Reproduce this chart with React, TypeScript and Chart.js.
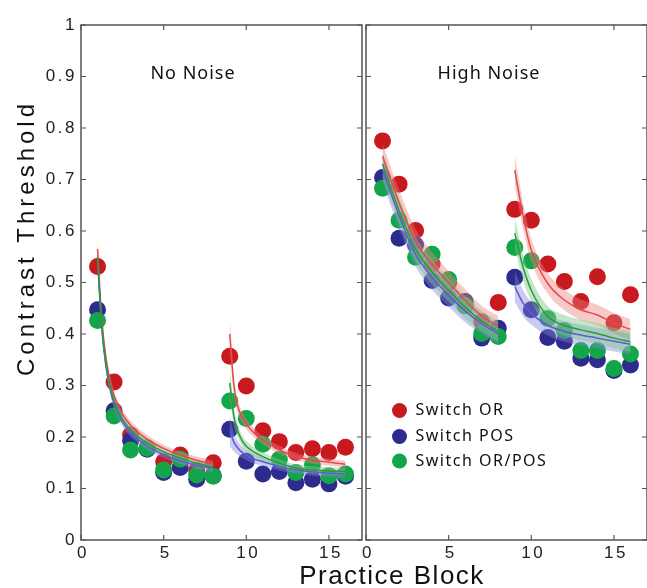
import React, { useEffect, useRef } from "react";
import { Chart, registerables } from "chart.js";

Chart.register(...registerables);

// ---------- data ----------
const BLOCKS = [1, 2, 3, 4, 5, 6, 7, 8, 9, 10, 11, 12, 13, 14, 15, 16];
const X_TICKS = [0, 5, 10, 15];
const Y_TICKS = [0, 0.1, 0.2, 0.3, 0.4, 0.5, 0.6, 0.7, 0.8, 0.9, 1];
const Y_TICK_LABELS = ["0", "0.1", "0.2", "0.3", "0.4", "0.5", "0.6", "0.7", "0.8", "0.9", "1"];
const SERIES_NAMES = ["Switch OR", "Switch POS", "Switch OR/POS"];
const PANEL_TITLES = ["No Noise", "High Noise"];
const X_TITLE = "Practice Block";
const Y_TITLE = "Contrast Threshold";

// No Noise observed thresholds
const NN_OR = [0.531, 0.307, 0.204, 0.179, 0.152, 0.165, 0.135, 0.15, 0.357, 0.299, 0.212, 0.191, 0.17, 0.177, 0.17, 0.18];
const NN_POS = [0.447, 0.251, 0.193, 0.176, 0.131, 0.141, 0.118, 0.125, 0.215, 0.153, 0.128, 0.133, 0.111, 0.118, 0.109, 0.124];
const NN_ORPOS = [0.426, 0.241, 0.175, 0.178, 0.136, 0.157, 0.126, 0.124, 0.27, 0.236, 0.186, 0.157, 0.131, 0.146, 0.125, 0.128];

// High Noise observed thresholds
const HN_OR = [0.775, 0.691, 0.601, 0.536, 0.5, 0.455, 0.424, 0.461, 0.642, 0.621, 0.536, 0.502, 0.463, 0.511, 0.422, 0.476];
const HN_POS = [0.704, 0.586, 0.573, 0.504, 0.47, 0.463, 0.392, 0.411, 0.51, 0.447, 0.393, 0.386, 0.353, 0.35, 0.329, 0.34];
const HN_ORPOS = [0.683, 0.621, 0.549, 0.555, 0.506, 0.456, 0.401, 0.395, 0.568, 0.542, 0.43, 0.407, 0.368, 0.368, 0.333, 0.361];

// No Noise fitted curves
const NN_FIT_X1 = [1, 1.25, 1.5, 1.75, 2, 2.5, 3, 4, 5, 6, 7, 8];
const NN_FIT_OR_1 = [0.565, 0.43, 0.355, 0.31, 0.28, 0.245, 0.223, 0.196, 0.178, 0.165, 0.155, 0.147];
const NN_FIT_POS_1 = [0.545, 0.415, 0.34, 0.295, 0.265, 0.23, 0.209, 0.183, 0.166, 0.154, 0.145, 0.139];
const NN_FIT_ORPOS_1 = [0.55, 0.42, 0.345, 0.3, 0.27, 0.235, 0.214, 0.188, 0.171, 0.159, 0.149, 0.142];
const NN_BAND_1 = [0.022, 0.016, 0.013, 0.011, 0.01, 0.009, 0.008, 0.008, 0.007, 0.007, 0.007, 0.007];
const NN_FIT_X2 = [9, 9.25, 9.5, 9.75, 10, 10.5, 11, 12, 13, 14, 15, 16];
const NN_FIT_OR_2 = [0.4, 0.3, 0.258, 0.238, 0.225, 0.207, 0.194, 0.175, 0.162, 0.155, 0.151, 0.147];
const NN_FIT_POS_2 = [0.212, 0.19, 0.178, 0.17, 0.165, 0.157, 0.152, 0.143, 0.136, 0.132, 0.13, 0.128];
const NN_FIT_ORPOS_2 = [0.305, 0.24, 0.21, 0.193, 0.182, 0.17, 0.162, 0.149, 0.14, 0.136, 0.134, 0.133];
const NN_BAND_2 = [0.03, 0.018, 0.013, 0.011, 0.01, 0.009, 0.008, 0.008, 0.007, 0.007, 0.007, 0.007];

// High Noise fitted curves
const HN_FIT_X1 = [1, 2, 3, 4, 5, 6, 7, 8];
const HN_FIT_OR_1 = [0.745, 0.655, 0.58, 0.535, 0.5, 0.465, 0.435, 0.415];
const HN_FIT_POS_1 = [0.72, 0.63, 0.555, 0.51, 0.475, 0.445, 0.42, 0.4];
const HN_FIT_ORPOS_1 = [0.73, 0.64, 0.565, 0.52, 0.485, 0.452, 0.425, 0.405];
const HN_BAND_1 = [0.025, 0.025, 0.024, 0.024, 0.022, 0.022, 0.02, 0.02];
const HN_FIT_X2 = [9, 9.5, 10, 11, 12, 13, 14, 15, 16];
const HN_FIT_OR_2 = [0.718, 0.63, 0.563, 0.498, 0.466, 0.447, 0.437, 0.421, 0.409];
const HN_FIT_POS_2 = [0.492, 0.46, 0.44, 0.417, 0.405, 0.398, 0.392, 0.386, 0.38];
const HN_FIT_ORPOS_2 = [0.596, 0.53, 0.485, 0.434, 0.417, 0.408, 0.401, 0.392, 0.385];
const HN_BAND_2 = [0.03, 0.025, 0.022, 0.02, 0.02, 0.02, 0.02, 0.02, 0.02];

// ---------- styles ----------
const PT_COLORS = ["#c8191f", "#2d2b8c", "#13a54a"];
const LINE_COLORS = ["#e6484b", "#5b5bd2", "#2a9a3a"];
const BAND_COLORS = ["rgba(236,128,128,0.42)", "rgba(130,130,222,0.42)", "rgba(120,200,130,0.45)"];
const SANS = "'Liberation Sans', Arial, sans-serif";
const TITLE_FONT = "'Noto Sans', 'Open Sans', sans-serif";
const AXIS_COLOR = "#555";

function pts(xs: number[], ys: number[], off?: number[], sign = 0) {
  return xs.map((x, i) => ({ x, y: ys[i] + (off ? sign * off[i] : 0) }));
}

function fitSets(xs: number[], ys: number[], band: number[], s: number) {
  return [
    {
      type: "line",
      data: pts(xs, ys, band, 1),
      borderWidth: 0,
      borderColor: "rgba(0,0,0,0)",
      pointRadius: 0,
      fill: false,
      cubicInterpolationMode: "monotone",
      order: 1,
    },
    {
      type: "line",
      data: pts(xs, ys, band, -1),
      borderWidth: 0,
      borderColor: "rgba(0,0,0,0)",
      backgroundColor: BAND_COLORS[s],
      pointRadius: 0,
      fill: "-1",
      cubicInterpolationMode: "monotone",
      order: 1,
    },
    {
      type: "line",
      data: pts(xs, ys),
      borderWidth: 1.5,
      borderColor: LINE_COLORS[s],
      pointRadius: 0,
      fill: false,
      cubicInterpolationMode: "monotone",
      order: 0,
    },
  ];
}

function scatterSet(vals: number[], s: number) {
  return {
    type: "scatter",
    label: SERIES_NAMES[s],
    data: pts(BLOCKS, vals),
    backgroundColor: PT_COLORS[s],
    borderWidth: 0,
    pointRadius: 8.5,
    pointHoverRadius: 8.5,
    order: [4, 3, 2][s],
  };
}

const panelPlugin = {
  id: "panel",
  beforeDraw(chart: any) {
    chart.ctx.letterSpacing = "2.5px";
  },
  beforeDatasetsDraw(chart: any) {
    chart.ctx.letterSpacing = "0px";
  },
  afterDatasetsDraw(chart: any, _args: any, opts: any) {
    const { ctx, chartArea, scales } = chart;
    const { left, right, top, bottom } = chartArea;
    const x = scales.x;
    const y = scales.y;
    ctx.save();
    ctx.letterSpacing = "0px";
    ctx.strokeStyle = AXIS_COLOR;
    ctx.lineWidth = 1.5;
    ctx.strokeRect(left, top, right - left, bottom - top);
    ctx.lineWidth = 1.2;
    ctx.beginPath();
    Y_TICKS.forEach((v) => {
      const py = y.getPixelForValue(v);
      ctx.moveTo(left, py);
      ctx.lineTo(left + 5, py);
      ctx.moveTo(right, py);
      ctx.lineTo(right - 5, py);
    });
    X_TICKS.forEach((v) => {
      const px = x.getPixelForValue(v);
      ctx.moveTo(px, bottom);
      ctx.lineTo(px, bottom - 5);
      ctx.moveTo(px, top);
      ctx.lineTo(px, top + 5);
    });
    ctx.stroke();

    // panel title
    ctx.fillStyle = "#111";
    ctx.font = `18px ${TITLE_FONT}`;
    ctx.letterSpacing = "1px";
    ctx.textAlign = "center";
    ctx.textBaseline = "middle";
    ctx.fillText(opts.title, opts.titleX, opts.titleY);

    // y axis title
    if (opts.yTitle) {
      ctx.save();
      ctx.font = `24px ${SANS}`;
      ctx.letterSpacing = "4px";
      ctx.translate(27, 238);
      ctx.rotate(-Math.PI / 2);
      ctx.fillText(Y_TITLE, 0, 0);
      ctx.restore();
    }

    // legend
    if (opts.legend) {
      ctx.font = `16px ${TITLE_FONT}`;
      ctx.letterSpacing = "1.5px";
      ctx.textAlign = "left";
      const rows = [410.5, 436.5, 461];
      SERIES_NAMES.forEach((name, i) => {
        ctx.beginPath();
        ctx.fillStyle = PT_COLORS[i];
        ctx.arc(opts.legendX, rows[i], 7.5, 0, Math.PI * 2);
        ctx.fill();
        ctx.fillStyle = "#111";
        ctx.fillText(name, opts.legendX + 16, rows[i]);
      });
    }
    ctx.restore();
  },
};

const RIGHT_CANVAS_LEFT = 352;

function makeConfig(panel: number) {
  const isLeft = panel === 0;
  const datasets: any[] = isLeft
    ? [
        ...fitSets(NN_FIT_X1, NN_FIT_ORPOS_1, NN_BAND_1, 2),
        ...fitSets(NN_FIT_X1, NN_FIT_POS_1, NN_BAND_1, 1),
        ...fitSets(NN_FIT_X1, NN_FIT_OR_1, NN_BAND_1, 0),
        ...fitSets(NN_FIT_X2, NN_FIT_ORPOS_2, NN_BAND_2, 2),
        ...fitSets(NN_FIT_X2, NN_FIT_POS_2, NN_BAND_2, 1),
        ...fitSets(NN_FIT_X2, NN_FIT_OR_2, NN_BAND_2, 0),
        scatterSet(NN_OR, 0),
        scatterSet(NN_POS, 1),
        scatterSet(NN_ORPOS, 2),
      ]
    : [
        ...fitSets(HN_FIT_X1, HN_FIT_ORPOS_1, HN_BAND_1, 2),
        ...fitSets(HN_FIT_X1, HN_FIT_POS_1, HN_BAND_1, 1),
        ...fitSets(HN_FIT_X1, HN_FIT_OR_1, HN_BAND_1, 0),
        ...fitSets(HN_FIT_X2, HN_FIT_ORPOS_2, HN_BAND_2, 2),
        ...fitSets(HN_FIT_X2, HN_FIT_POS_2, HN_BAND_2, 1),
        ...fitSets(HN_FIT_X2, HN_FIT_OR_2, HN_BAND_2, 0),
        scatterSet(HN_OR, 0),
        scatterSet(HN_POS, 1),
        scatterSet(HN_ORPOS, 2),
      ];

  return {
    type: "scatter",
    data: { datasets },
    options: {
      responsive: false,
      animation: false,
      devicePixelRatio: 1,
      layout: { autoPadding: false, padding: { top: 25, right: isLeft ? 2 : 0, left: 0, bottom: 0 } },
      plugins: {
        legend: { display: false },
        tooltip: { enabled: false },
        panel: {
          title: PANEL_TITLES[panel],
          titleX: isLeft ? 193 : 489 - RIGHT_CANVAS_LEFT,
          titleY: 74,
          yTitle: isLeft,
          legend: !isLeft,
          legendX: 399.5 - RIGHT_CANVAS_LEFT,
        },
      },
      scales: {
        x: {
          type: "linear",
          min: 0,
          max: 17,
          grid: { display: false, drawTicks: false },
          border: { display: false },
          afterBuildTicks: (s: any) => {
            s.ticks = X_TICKS.map((v) => ({ value: v }));
          },
          afterFit: (s: any) => {
            s.height = 48;
            s.paddingLeft = 0;
            s.paddingRight = 0;
          },
          ticks: {
            color: "#222",
            padding: 3,
            labelOffset: 2,
            maxRotation: 0,
            autoSkip: false,
            font: { family: SANS, size: 17 },
            callback: (v: any) => String(v),
          },
        },
        y: {
          type: "linear",
          min: 0,
          max: 1,
          grid: { display: false, drawTicks: false },
          border: { display: false },
          afterBuildTicks: (s: any) => {
            s.ticks = Y_TICKS.map((v) => ({ value: v }));
          },
          afterFit: (s: any) => {
            s.width = isLeft ? 81 : 366 - RIGHT_CANVAS_LEFT;
            s.paddingTop = 0;
            s.paddingBottom = 0;
          },
          ticks: {
            display: isLeft,
            color: "#222",
            padding: 4,
            font: { family: SANS, size: 17 },
            callback: (_v: any, i: number) => Y_TICK_LABELS[i],
          },
        },
      },
    },
    plugins: [panelPlugin],
  };
}

function Panel({ panel, left, width }: { panel: number; left: number; width: number }) {
  const ref = useRef<HTMLCanvasElement | null>(null);
  useEffect(() => {
    if (!ref.current) return;
    const chart = new Chart(ref.current, makeConfig(panel) as any);
    return () => chart.destroy();
  }, [panel]);
  return (
    <canvas
      ref={ref}
      width={width}
      height={588}
      style={{ position: "absolute", left, top: 0, width, height: 588 }}
    />
  );
}

export default function App() {
  return (
    <div style={{ position: "absolute", left: 0, top: 0, width: 647, height: 588, background: "#fff", overflow: "hidden" }}>
      <Panel panel={0} left={0} width={364} />
      <Panel panel={1} left={RIGHT_CANVAS_LEFT} width={647 - RIGHT_CANVAS_LEFT} />
      <div
        style={{
          position: "absolute",
          left: 242,
          width: 300,
          top: 562,
          textAlign: "center",
          font: `26px ${SANS}`,
          letterSpacing: "1.5px",
          lineHeight: "26px",
          color: "#111",
          whiteSpace: "nowrap",
        }}
      >
        {X_TITLE}
      </div>
    </div>
  );
}
